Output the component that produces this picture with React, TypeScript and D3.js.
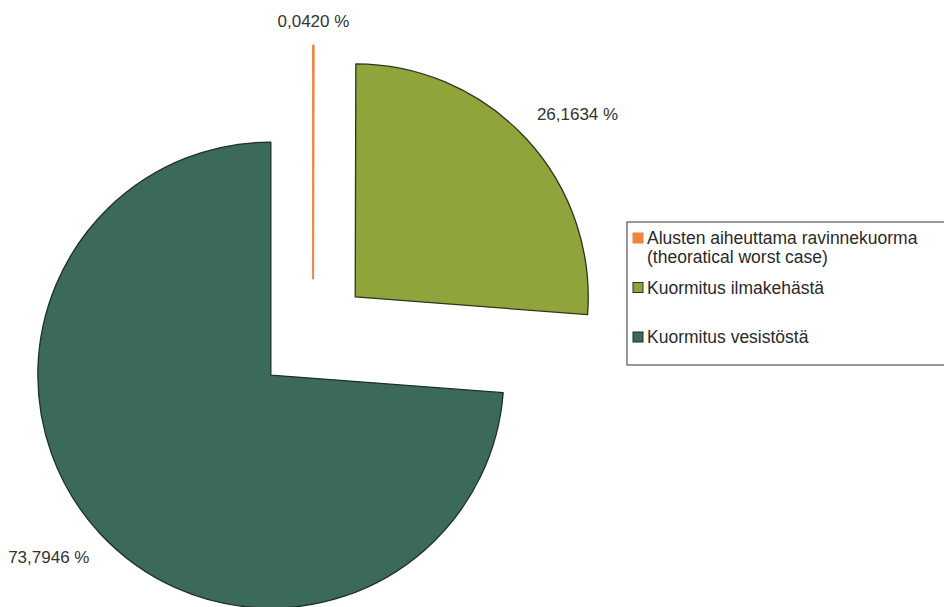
import React from "react";
import * as d3 from "d3";

const categories = [
  "Alusten aiheuttama ravinnekuorma (theoratical worst case)",
  "Kuormitus ilmakehästä",
  "Kuormitus vesistöstä",
];
const legendLines = [
  ["Alusten aiheuttama ravinnekuorma", "(theoratical worst case)"],
  ["Kuormitus ilmakehästä"],
  ["Kuormitus vesistöstä"],
];
const values = [0.042, 26.1634, 73.7946];
const valueLabels = ["0,0420 %", "26,1634 %", "73,7946 %"];
const colors = ["#f0843c", "#8fa43a", "#3c6a5a"];
const strokes = ["#e8a050", "#2f3320", "#1f2f28"];

const W = 944;
const H = 607;

export default function App() {
  const cx = 313;
  const cy = 336;
  const r = 233;
  const explode = 57.5;
  const fontSize = 17;

  const pie = d3.pie<number>().sort(null).value((d) => d)(values);
  const arc = d3.arc<d3.PieArcDatum<number>>().innerRadius(0).outerRadius(r);

  return (
    <svg
      width={W}
      height={H}
      style={{ position: "absolute", left: 0, top: 0, display: "block", background: "#fff" }}
      fontFamily="'Liberation Sans', Arial, sans-serif"
    >
      <rect x={0} y={0} width={W} height={H} fill="#fff" />
      {pie.map((p, i) => {
        const mid = (p.startAngle + p.endAngle) / 2;
        const dx = Math.sin(mid) * explode;
        const dy = -Math.cos(mid) * explode;
        const tiny = p.endAngle - p.startAngle < 0.01;
        const la = mid + 0.08 * Math.abs(Math.sin(mid));
        const hw = (valueLabels[i].length * 0.56 * fontSize) / 2;
        const hh = fontSize * 0.42;
        const ld = r + 17 + hw * Math.abs(Math.sin(la)) + hh * Math.abs(Math.cos(la));
        const lx = cx + dx + Math.sin(la) * ld;
        const ly = cy + dy - Math.cos(la) * ld;
        return (
          <g key={i}>
            <path
              d={arc(p) || ""}
              transform={`translate(${cx + dx},${cy + dy})`}
              fill={colors[i]}
              stroke={tiny ? colors[i] : strokes[i]}
              strokeWidth={tiny ? 2 : 1.3}
              strokeLinejoin="round"
            />
            <text
              x={lx}
              y={ly}
              textAnchor="middle"
              dominantBaseline="central"
              fontSize={fontSize}
              fill="#333"
            >
              {valueLabels[i]}
            </text>
          </g>
        );
      })}
      <g>
        <rect x={627} y={222} width={340} height={143} fill="#fff" stroke="#555" strokeWidth={1.2} />
        {categories.map((c, i) => {
          const y0 = 238 + i * 49.5;
          return (
            <g key={c}>
              <rect
                x={633}
                y={y0 - 5}
                width={10}
                height={10}
                fill={colors[i]}
                stroke={i === 0 ? colors[i] : strokes[i]}
                strokeWidth={1}
              />
              {legendLines[i].map((line, j) => (
                <text
                  key={j}
                  x={647}
                  y={y0 + j * 19}
                  dominantBaseline="central"
                  fontSize={17.5}
                  fill="#2a2a2a"
                >
                  {line}
                </text>
              ))}
            </g>
          );
        })}
      </g>
    </svg>
  );
}
